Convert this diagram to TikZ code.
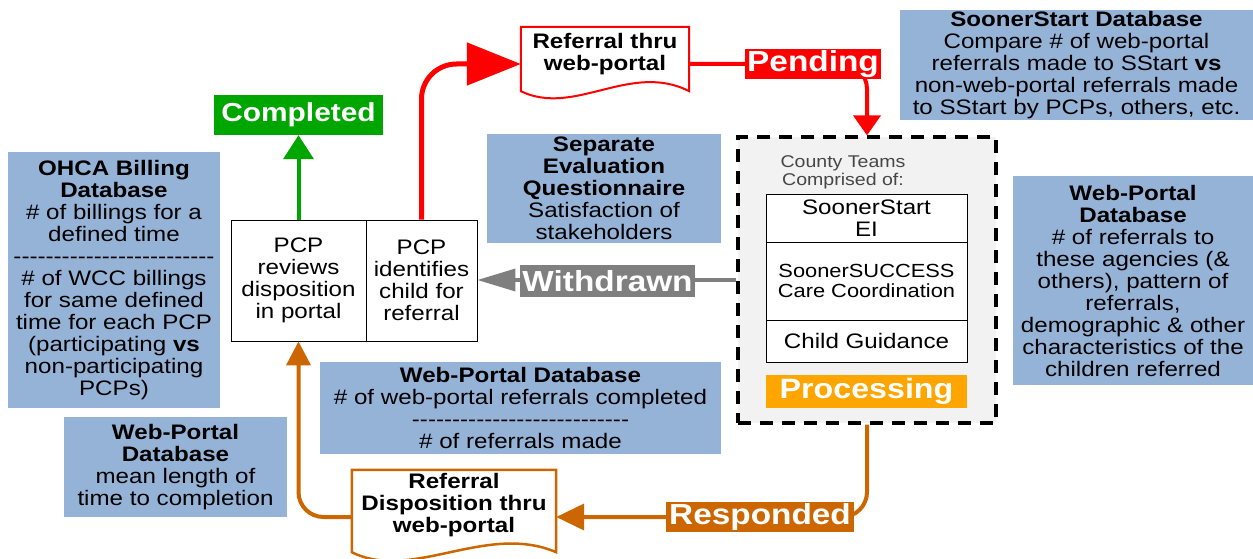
\documentclass[tikz,border=0pt]{standalone}
\usepackage{fontspec}
\setmainfont[FakeStretch=1.15]{Liberation Sans}
\usetikzlibrary{arrows.meta,calc}
\definecolor{dbblue}{RGB}{149,179,215}
\definecolor{okgreen}{RGB}{0,166,0}
\definecolor{procorange}{RGB}{255,165,0}
\definecolor{respbrown}{RGB}{204,102,0}
\definecolor{wdgray}{RGB}{127,127,127}
\definecolor{panelgray}{RGB}{242,242,242}
\definecolor{teamgray}{RGB}{70,70,70}
\newcount\dashcnt
\newcommand{\dashrow}[1]{\dashcnt=#1\relax\loop\mbox{-}\advance\dashcnt by -1 \ifnum\dashcnt>0 \repeat}
\tikzset{
  body/.style={font=\fontsize{21}{22}\selectfont, align=center, inner sep=0pt},
  dbbox/.style={body, fill=dbblue, text=black},
  cell/.style={body, draw=black, line width=0.8pt, fill=white},
  tag/.style={font=\bfseries\fontsize{29}{30}\selectfont, text=white, inner sep=0pt},
  conn/.style={line width=4pt},
}
\begin{document}
\begin{tikzpicture}[x=1pt,y=-1pt]
\clip (0,0) rectangle (1253,559);
% database boxes
\node[dbbox, minimum width=212pt, minimum height=256pt] (ohca) at (114,280)
  {\textbf{OHCA Billing}\\\textbf{Database}\\\# of billings for a\\defined time\\\dashrow{25}\\\# of WCC billings\\for same defined\\time for each PCP\\(participating \textbf{vs}\\non-participating\\PCPs)};
\node[dbbox, minimum width=234pt, minimum height=109pt] (sepeval) at (604,188.5)
  {\textbf{Separate}\\\textbf{Evaluation}\\\textbf{Questionnaire}\\Satisfaction of\\stakeholders};
\node[dbbox, minimum width=353pt, minimum height=110pt] (ssdb) at (1076.5,65)
  {\textbf{SoonerStart Database}\\Compare \# of web-portal\\referrals made to SStart \textbf{vs}\\non-web-portal referrals made\\to SStart by PCPs, others, etc.};
\node[dbbox, minimum width=240pt, minimum height=209pt] (wpdb) at (1133,280.5)
  {\textbf{Web-Portal}\\\textbf{Database}\\\# of referrals to\\these agencies (\&\\others), pattern of\\referrals,\\demographic \& other\\characteristics of the\\children referred};
\node[dbbox, minimum width=401pt, minimum height=92pt] (wpmid) at (520.5,408)
  {\textbf{Web-Portal Database}\\\# of web-portal referrals completed\\\dashrow{27}\\\# of referrals made};
\node[dbbox, minimum width=223pt, minimum height=100pt] (wpmean) at (175.5,467)
  {\textbf{Web-Portal}\\\textbf{Database}\\mean length of\\time to completion};
% PCP boxes
\node[cell, minimum width=135pt, minimum height=121pt] (pcpL) at (298.5,280.5) {PCP\\reviews\\disposition\\in portal};
\node[cell, minimum width=111pt, minimum height=121pt] (pcpR) at (421.5,280.5) {PCP\\identifies\\child for\\referral};
% county teams panel
\node[draw=black, fill=panelgray, line width=3.2pt, dash pattern=on 13pt off 9pt,
      minimum width=258pt, minimum height=286pt, inner sep=0pt] (county) at (867,280) {};
\node[font=\fontsize{17}{18}\selectfont, text=teamgray, align=center, inner sep=0pt] (teams) at (843,172) {County Teams\\Comprised of:};
\node[cell, minimum width=201pt, minimum height=48pt] (ss) at (866.5,218) {SoonerStart\\EI};
\node[cell, font=\fontsize{19}{20}\selectfont, minimum width=201pt, minimum height=78pt] (succ) at (866.5,281) {SoonerSUCCESS\\Care Coordination};
\node[cell, minimum width=201pt, minimum height=42pt] (cg) at (866.5,341) {Child Guidance};
\node[tag, fill=procorange, font=\bfseries\fontsize{28}{30}\selectfont, minimum width=201pt, minimum height=33pt] (proc) at (866.5,391.5) {Processing};
% documents
\node[minimum width=168pt, minimum height=74pt, inner sep=0pt] (ref) at (605,64) {};
\draw[red, line width=2pt, fill=white] ($(ref.south west)+(0,-10)$) -- (ref.north west) -- (ref.north east) -- ($(ref.south east)+(0,-10)$)
  .. controls +(-59,-30) and +(54,26) .. ($(ref.south west)+(0,-10)$) -- cycle;
\node[body, font=\bfseries\fontsize{21}{22}\selectfont] (reftext) at (605,54.5) {Referral thru\\web-portal};
\node[minimum width=204pt, minimum height=94pt, inner sep=0pt] (disp) at (454,517) {};
\draw[respbrown, line width=2.5pt, fill=white] ($(disp.south west)+(0,-12)$) -- (disp.north west) -- (disp.north east) -- ($(disp.south east)+(0,-12)$)
  .. controls +(-70,-30) and +(60,30) .. ($(disp.south west)+(0,-12)$) -- cycle;
\node[body, font=\bfseries\fontsize{21}{22}\selectfont] (disptext) at (454,505) {Referral\\Disposition thru\\web-portal};
% status label above the PCP box
\node[tag, fill=okgreen, font=\bfseries\fontsize{26}{28}\selectfont, minimum width=169pt, minimum height=40pt] (completed) at (298.5,115) {Completed};
% connectors
\draw[okgreen, conn, -{Triangle[width=30pt,length=24pt]}] (pcpL.north) -- (completed.south);
\draw[red, line width=5pt, rounded corners=35pt, -{Triangle[width=42pt,length=54pt]}] (pcpR.north) |- (ref.west);
\draw[red, conn, rounded corners=25pt, -{Triangle[width=27pt,length=20pt]}] (ref.east) -| (county.north);
\draw[wdgray, line width=3.5pt, -{Triangle[width=22pt,length=38pt]}] (county.west) -- (county.west -| pcpR.east);
\draw[respbrown, conn, rounded corners=25pt, -{Triangle[width=26pt,length=28pt]}] (county.south) |- (disp.east);
\draw[respbrown, conn, rounded corners=25pt, -{Triangle[width=24pt,length=24pt]}] (disp.west) -| (pcpL.south);
% labels on connectors
\node[tag, fill=red, minimum width=136pt, minimum height=30pt] (pending) at (813,64) {Pending};
\node[tag, fill=wdgray, minimum width=175pt, minimum height=32pt] (withdrawn) at (607.5,281) {Withdrawn};
\node[tag, fill=respbrown, minimum width=188pt, minimum height=30pt] (responded) at (760,517) {Responded};
\end{tikzpicture}
\end{document}
